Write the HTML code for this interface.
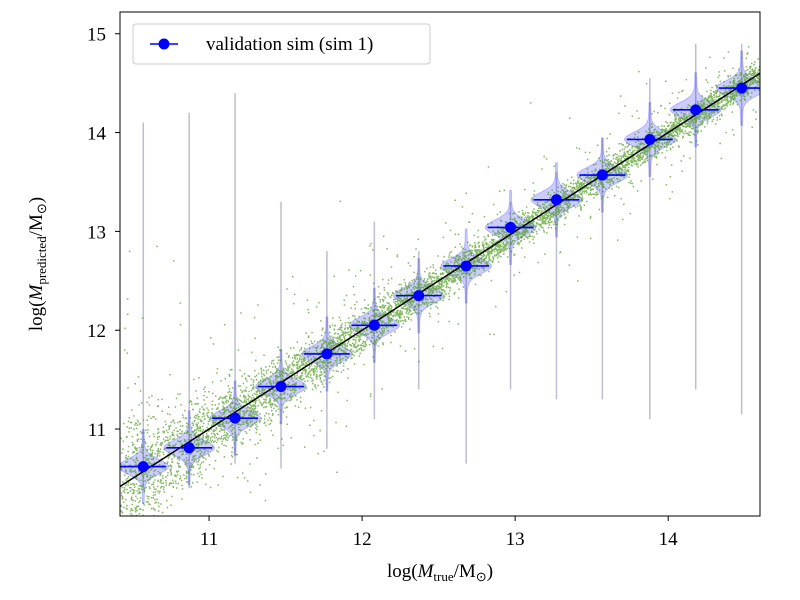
<!DOCTYPE html>
<html><head><meta charset="utf-8"><style>
html,body{margin:0;padding:0;background:#fff;overflow:hidden;width:800px;height:600px;}
svg{display:block;font-family:"Liberation Serif",serif;}
</style></head><body>
<svg id="chart" width="800" height="600">
<defs><clipPath id="clip"><rect x="120" y="12" width="640" height="504"/></clipPath></defs>
<g id="plot" clip-path="url(#clip)"></g>
<rect x="120" y="12" width="640" height="504" fill="none" stroke="#000" stroke-width="1"/>
<g id="axes"></g>
<text x="440" y="577" text-anchor="middle" font-size="19">log(<tspan font-style="italic">M</tspan><tspan font-size="13" dy="4">true</tspan><tspan dy="-4">/M</tspan><tspan font-size="13" dy="4">⊙</tspan><tspan dy="-4">)</tspan></text>
<text transform="translate(42,264) rotate(-90)" text-anchor="middle" font-size="19">log(<tspan font-style="italic">M</tspan><tspan font-size="13" dy="4">predicted</tspan><tspan dy="-4">/M</tspan><tspan font-size="13" dy="4">⊙</tspan><tspan dy="-4">)</tspan></text>
<g>
<rect x="133" y="24" width="297" height="40" rx="3" fill="#fff" fill-opacity="0.85" stroke="#ccc"/>
<line x1="150" y1="44" x2="178" y2="44" stroke="#0000ff" stroke-width="1.6"/>
<circle cx="164" cy="44" r="5.5" fill="#0000ff"/>
<text x="206" y="50" font-size="19">validation sim (sim 1)</text>
</g>
</svg>
<script>
const binCenters=[10.57,10.87,11.17,11.47,11.77,12.08,12.37,12.68,12.97,13.27,13.57,13.88,14.18,14.48];
const binMedians=[10.62,10.81,11.11,11.43,11.76,12.05,12.35,12.65,13.04,13.32,13.57,13.93,14.23,14.45];
const tailTop=[14.1,14.2,14.4,13.3,12.8,13.1,12.8,12.6,13.3,13.6,13.95,14.55,14.9,14.9];
const tailBottom=[10.4,10.4,10.65,10.6,10.8,11.1,11.4,10.65,11.4,11.3,11.3,11.1,11.4,11.15];
const xTicks=[11,12,13,14];
const yTicks=[11,12,13,14,15];
const X0=10.418,X1=14.6,Y0=10.12,Y1=15.22;
const sx=v=>120+(v-X0)/(X1-X0)*640;
const sy=v=>516-(v-Y0)/(Y1-Y0)*504;
const NS='http://www.w3.org/2000/svg';
const plot=document.getElementById('plot'),axes=document.getElementById('axes');
function mk(tag,at,parent){const e=document.createElementNS(NS,tag);for(const k in at)e.setAttribute(k,at[k]);parent.appendChild(e);return e;}
// violins (drawn beneath scatter)
binCenters.forEach((c,i)=>{
  const g=mk('g',{},plot);
  
  
  mk('line',{x1:sx(c),x2:sx(c),y1:sy(tailTop[i]),y2:sy(tailBottom[i]),stroke:'#8888aa','stroke-opacity':'0.55','stroke-width':'1.5'},g);
  const m=binMedians[i],sig=0.075,w=0.15;
  let right=[],left=[];
  for(let k=-40;k<=40;k++){const yv=m+k*sig/8;const z=k/8;const hw=w*Math.exp(-0.5*z*z)+0.012*Math.exp(-Math.abs(z)/2.5)+0.004;right.push([sx(c+hw),sy(yv)]);left.unshift([sx(c-hw),sy(yv)]);}
  const pts=right.concat(left).map(p=>p[0].toFixed(1)+','+p[1].toFixed(1)).join(' ');
  mk('polygon',{points:pts,fill:'#0000ff','fill-opacity':'0.2',stroke:'#0000ff','stroke-opacity':'0.2'},g);
});
// scatter (texture of the simulated population)
let seed=12345;const rnd=()=>{seed=(seed*1103515245+12345)%2147483648;return seed/2147483648;};
const gauss=()=>{let u=rnd()||1e-9,v=rnd();return Math.sqrt(-2*Math.log(u))*Math.cos(2*Math.PI*v);};
const sg=mk('g',{fill:'#4f9a1f','fill-opacity':'0.7'},plot);


let d='';
for(let i=0;i<9000;i++){
  const xv=X0+rnd()*(X1-X0);
  const s=0.25*Math.exp(-(xv-X0)*1.2)+0.07;
  let yv=xv+gauss()*s*(rnd()<0.08?4:1);
  d+=`M${sx(xv).toFixed(1)},${sy(yv).toFixed(1)}h1.5v1.5h-1.5z`;
}
mk('path',{d:d},sg);
// diagonal
const dl=mk('line',{x1:sx(X0),y1:sy(X0),x2:sx(X1),y2:sy(X1),stroke:'#000','stroke-width':'1.5'},plot);


// medians
binCenters.forEach((c,i)=>{
  const e=mk('line',{x1:sx(c-0.15),x2:sx(c+0.15),y1:sy(binMedians[i]),y2:sy(binMedians[i]),stroke:'#0000ff','stroke-width':'1.6'},plot);
  
  
  const p=mk('circle',{cx:sx(c),cy:sy(binMedians[i]),r:5.5,fill:'#0000ff'},plot);
  
  
});
// ticks
xTicks.forEach(v=>{
  const l=mk('line',{x1:sx(v),x2:sx(v),y1:516,y2:521,stroke:'#000'},axes);
  
  
  const t=mk('text',{x:sx(v),y:545,'text-anchor':'middle','font-size':'19'},axes);t.textContent=v;
  
  
});
yTicks.forEach(v=>{
  const l=mk('line',{x1:115,x2:120,y1:sy(v),y2:sy(v),stroke:'#000'},axes);
  
  
  const t=mk('text',{x:106,y:sy(v)+7,'text-anchor':'end','font-size':'19'},axes);t.textContent=v;
  
  
});
</script>
</body></html>
